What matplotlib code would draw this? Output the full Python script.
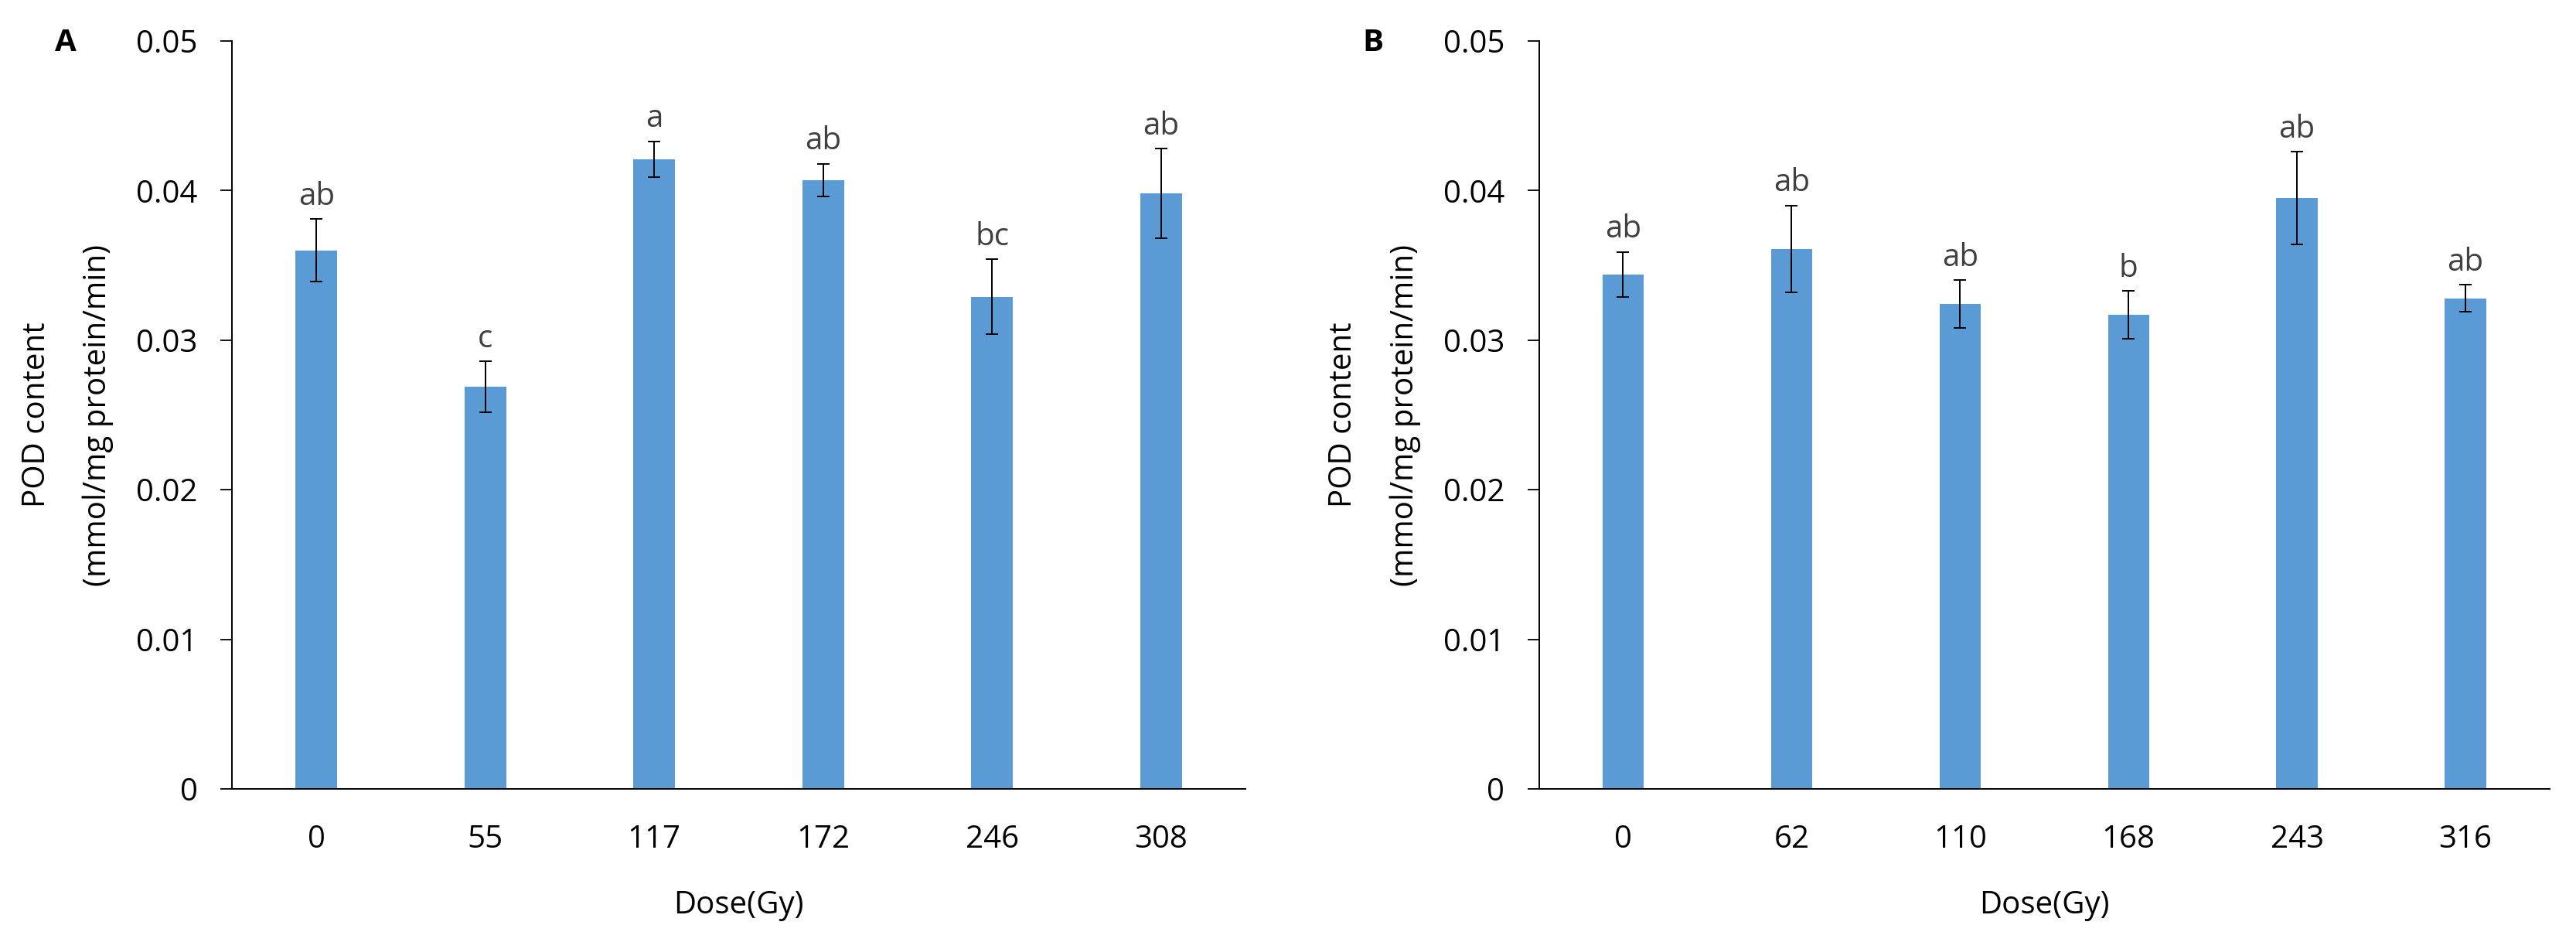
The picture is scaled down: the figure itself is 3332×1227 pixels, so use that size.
import matplotlib
matplotlib.use("Agg")
import matplotlib.pyplot as plt
from matplotlib.ticker import FuncFormatter

plt.rcParams['font.family'] = ['Open Sans', 'DejaVu Sans']

# ---- data ----
doses_a = ["0", "55", "117", "172", "246", "308"]
means_a = [0.0360, 0.0269, 0.0421, 0.0407, 0.0329, 0.0398]
errs_a = [0.0021, 0.0017, 0.0012, 0.0011, 0.0025, 0.0030]
letters_a = ["ab", "c", "a", "ab", "bc", "ab"]

doses_b = ["0", "62", "110", "168", "243", "316"]
means_b = [0.0344, 0.0361, 0.0324, 0.0317, 0.0395, 0.0328]
errs_b = [0.0015, 0.0029, 0.0016, 0.0016, 0.0031, 0.0009]
letters_b = ["ab", "ab", "ab", "b", "ab", "ab"]

panel_names = ["A", "B"]
yticks = [0, 0.01, 0.02, 0.03, 0.04, 0.05]

W, H = 3332, 1227
DPI = 100
fig = plt.figure(figsize=(W / DPI, H / DPI), dpi=DPI)

BAR_COLOR = "#5B9BD5"
FS = 29

def fmt(v, pos):
    if abs(v) < 1e-12:
        return "0"
    return ("%.2f" % v)

def draw(left_px, right_px, doses, means, errs, letters, name):
    top_px, bot_px = 53, 1020
    ax = fig.add_axes([left_px / W, 1 - bot_px / H,
                       (right_px - left_px) / W, (bot_px - top_px) / H])
    x = list(range(len(doses)))
    ax.bar(x, means, width=0.245, color=BAR_COLOR, zorder=2)
    ax.errorbar(x, means, yerr=errs, fmt='none', ecolor='black',
                elinewidth=1.4, capsize=5.5, capthick=1.4, zorder=3)
    for xi, m, e, lab in zip(x, means, errs, letters):
        ax.text(xi, m + e + 0.00095, lab, ha='center', va='baseline',
                fontsize=FS, color='#404040')
    ax.set_xlim(-0.5, len(doses) - 0.5)
    ax.set_ylim(0, 0.05)
    ax.set_yticks(yticks)
    ax.yaxis.set_major_formatter(FuncFormatter(fmt))
    ax.set_xticks(x)
    ax.set_xticklabels(doses)
    ax.tick_params(axis='x', length=0, pad=33, labelsize=FS)
    ax.tick_params(axis='y', length=11, width=1.3, pad=21, labelsize=FS,
                   direction='out')
    for s in ['top', 'right']:
        ax.spines[s].set_visible(False)
    for s in ['left', 'bottom']:
        ax.spines[s].set_linewidth(1.4)
    ax.set_xlabel("Dose(Gy)", fontsize=FS, labelpad=32)
    # y label (two lines)
    off = left_px - 300
    cy = 1 - 536.5 / H
    fig.text((47.5 + off) / W, cy, "POD content", rotation=90,
             ha='center', va='center', fontsize=FS)
    fig.text((127 + off) / W, cy, "(mmol/mg protein/min)", rotation=90,
             ha='center', va='center', fontsize=FS)
    fig.text((85 + off) / W, 1 - 55 / H, name, ha='center', va='center',
             fontsize=FS, fontweight='bold')
    return ax

draw(300, 1611, doses_a, means_a, errs_a, letters_a, panel_names[0])
draw(1990.5, 3298, doses_b, means_b, errs_b, letters_b, panel_names[1])

fig.savefig("out.png", dpi=DPI, facecolor='white')
